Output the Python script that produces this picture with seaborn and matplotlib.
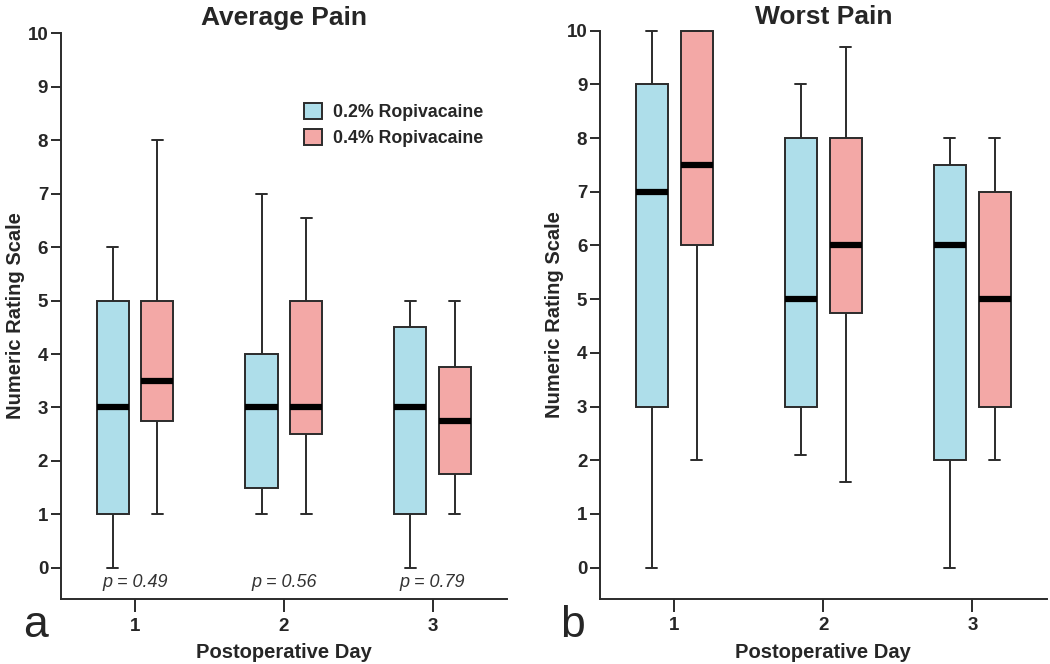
import numpy as np
import pandas as pd
import matplotlib
matplotlib.use("Agg")
import matplotlib.pyplot as plt
import seaborn as sns

days = ["1", "2", "3"]
groups = ["0.2% Ropivacaine", "0.4% Ropivacaine"]
# five-number summaries (min, q1, median, q3, max) per day, per group
avg_low = [[0, 1, 3, 5, 6], [1, 1.5, 3, 4, 7], [0, 1, 3, 4.5, 5]]
avg_high = [[1, 2.75, 3.5, 5, 8], [1, 2.5, 3, 5, 6.55], [1, 1.75, 2.75, 3.75, 5]]
worst_low = [[0, 3, 7, 9, 10], [2.1, 3, 5, 8, 9], [0, 2, 6, 7.5, 8]]
worst_high = [[2, 6, 7.5, 10, 10], [1.6, 4.75, 6, 8, 9.7], [2, 3, 5, 7, 8]]
p_values = ["0.49", "0.56", "0.79"]
yticks = list(range(0, 11))

def long_df(low, high):
    rows = []
    for d, vals in zip(days, low):
        for v in vals:
            rows.append((d, groups[0], v))
    for d, vals in zip(days, high):
        for v in vals:
            rows.append((d, groups[1], v))
    return pd.DataFrame(rows, columns=["day", "group", "score"])

sns.set_style("white")
plt.rcParams["font.family"] = ["Liberation Sans", "DejaVu Sans"]

palette = {groups[0]: "#AEDEEA", groups[1]: "#F3A8A6"}
edge = "#2b2b2b"

fig = plt.figure(figsize=(10.5, 6.64), dpi=100)
ax1 = fig.add_axes([0.0578, 0.0979, 0.4250, 0.8523])
ax2 = fig.add_axes([0.5712, 0.0983, 0.4258, 0.8555])

for ax, low, high, title, tpad in [(ax1, avg_low, avg_high, "Average Pain", 6),
                                    (ax2, worst_low, worst_high, "Worst Pain", 4.5)]:
    df = long_df(low, high)
    sns.boxplot(data=df, x="day", y="score", hue="group", order=days,
                hue_order=groups, palette=palette, whis=(0, 100),
                width=0.6, gap=0.28, linecolor=edge, linewidth=1.4,
                medianprops=dict(color="black", linewidth=4.5, solid_capstyle="butt"),
                saturation=1, legend=(ax is ax1), ax=ax)
    # narrower whisker caps: short horizontal segments (not medians)
    for ln in ax.lines:
        xd = np.asarray(ln.get_xdata(), dtype=float)
        yd = np.asarray(ln.get_ydata(), dtype=float)
        if len(xd) == 2 and np.isclose(yd[0], yd[1]):
            span = abs(xd[1] - xd[0])
            if 0.01 < span < 0.15:
                c = xd.mean()
                ln.set_xdata([c - 0.037, c + 0.037])
        ln.set_clip_on(False)
    for p in ax.patches:
        p.set_clip_on(False)
    ax.set_xlim(-0.5, 2.5)
    ax.set_ylim(-0.58, 10)
    ax.set_yticks(yticks)
    ax.set_yticklabels([str(t) for t in yticks], fontsize=13.5, fontweight="bold")
    ax.set_xticks(range(3))
    ax.set_xticklabels(days, fontsize=13.5, fontweight="bold")
    ax.tick_params(axis="y", direction="out", length=7, width=1.4, color=edge, pad=2, left=True)
    ax.tick_params(axis="x", direction="out", length=9.5, width=1.4, color=edge, pad=4, bottom=True)
    for s in ["top", "right"]:
        ax.spines[s].set_visible(False)
    for s in ["left", "bottom"]:
        ax.spines[s].set_linewidth(1.4)
        ax.spines[s].set_color(edge)
    ax.set_title(title, fontsize=19, fontweight="bold", pad=tpad)
    ax.set_ylabel("Numeric Rating Scale", fontsize=14.5, fontweight="bold", labelpad=2)
    ax.set_xlabel("Postoperative Day", fontsize=14.5, fontweight="bold", labelpad=6)

for i, pv in enumerate(p_values):
    ax1.text(i, -0.28, f"p = {pv}", ha="center", va="center", fontsize=13,
             style="italic", color="#333333")

ax1.legend(loc="upper left", bbox_to_anchor=(0.51, 0.905), frameon=False,
           prop=dict(weight="bold", size=12.8), handlelength=1.0, handleheight=1.0,
           handletextpad=0.6, labelspacing=0.45)

fig.text(0.022, 0.058, "a", fontsize=32, ha="left", va="center")
fig.text(0.533, 0.058, "b", fontsize=32, ha="left", va="center")

fig.savefig("out.png", dpi=100)
